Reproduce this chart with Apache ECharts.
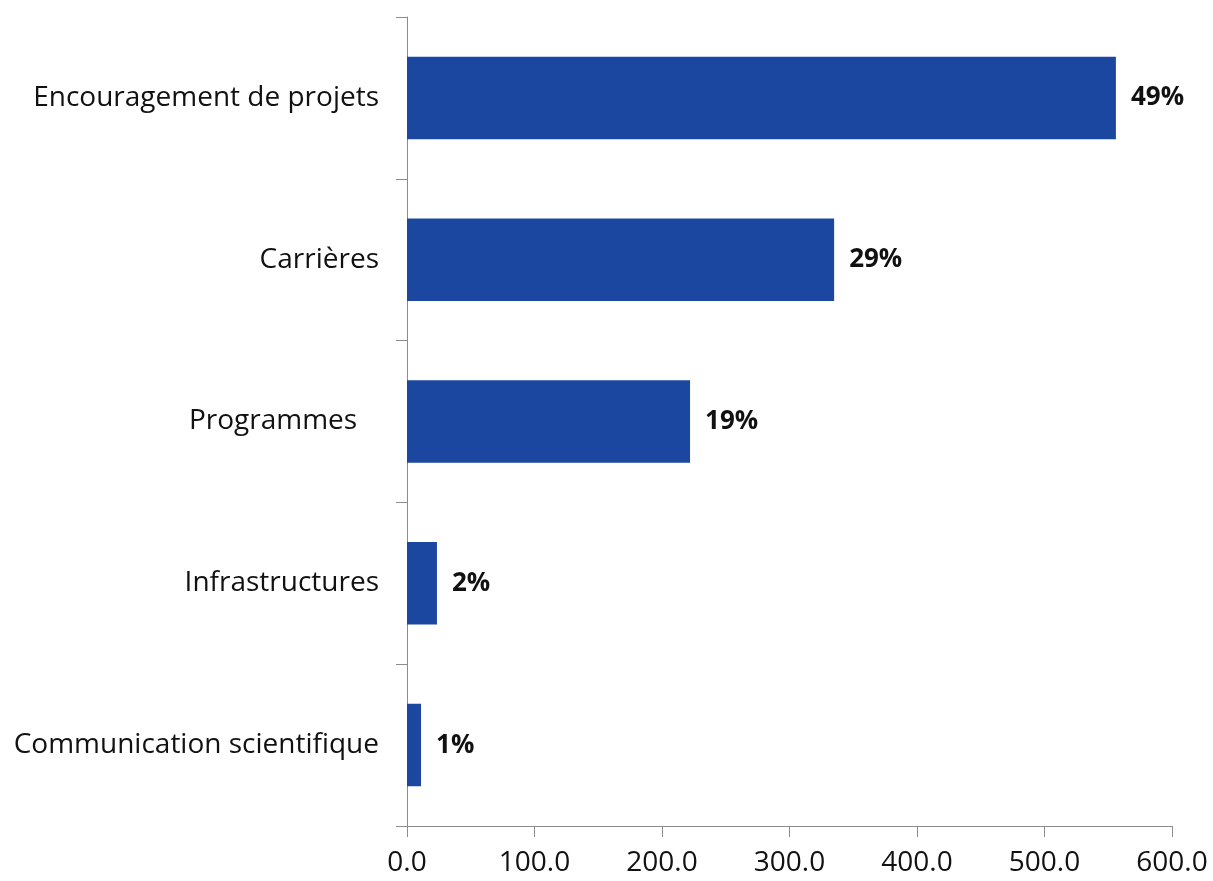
<!DOCTYPE html>
<html><head><meta charset="utf-8">
<script src="https://cdn.jsdelivr.net/npm/echarts@6/dist/echarts.min.js"></script>
<style>html,body{margin:0;padding:0;background:#fff}#c{width:1213px;height:881px}</style>
</head><body><div id="c"></div>
<script>
const categories = ["Encouragement de projets", "Carrières", "Programmes   ", "Infrastructures", "Communication scientifique"];
const values = [556, 335, 222, 23.5, 11];
const percentLabels = ["49%", "29%", "19%", "2%", "1%"];
const xTicks = [0, 100, 200, 300, 400, 500, 600];

const chart = echarts.init(document.getElementById('c'));
const font = 'Open Sans';
chart.setOption({
  animation: false,
  grid: {left: 407, right: 41, top: 17, bottom: 55},
  xAxis: {
    type: 'value', min: xTicks[0], max: xTicks[xTicks.length-1], interval: 100,
    axisLine: {show: true, lineStyle: {color: '#8c8c8c', width: 1}},
    axisTick: {show: true, length: 11, lineStyle: {color: '#8c8c8c'}},
    splitLine: {show: false},
    axisLabel: {color: '#111', fontSize: 28, fontFamily: font, margin: 23, formatter: v => v.toFixed(1)}
  },
  yAxis: {
    type: 'category', data: categories.slice().reverse(),
    axisLine: {show: true, lineStyle: {color: '#8c8c8c', width: 1}},
    axisTick: {show: true, length: 11, lineStyle: {color: '#8c8c8c'}},
    axisLabel: {color: '#111', fontSize: 28, fontFamily: font, margin: 28}
  },
  series: [{
    type: 'bar', data: values.slice().reverse(), barCategoryGap: '49%',
    itemStyle: {color: '#1b47a1'},
    label: {show: true, position: 'right', distance: 15, color: '#111', fontSize: 26, fontWeight: 'bold', fontFamily: font,
      formatter: p => percentLabels.slice().reverse()[p.dataIndex]}
  }]
});
</script></body></html>
